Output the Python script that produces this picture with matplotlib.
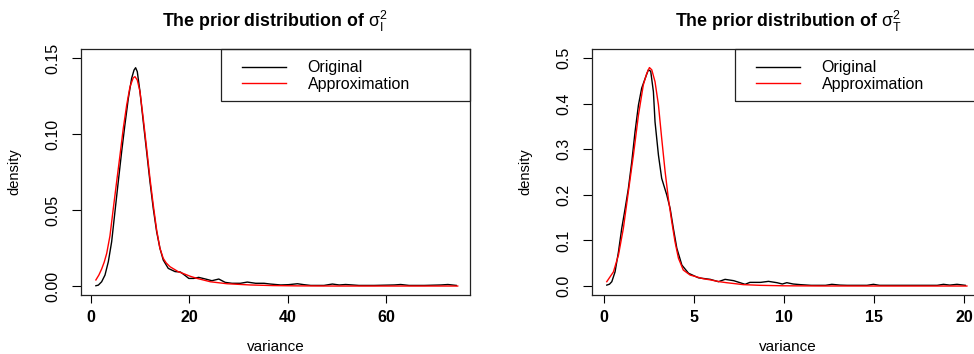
import matplotlib
matplotlib.use("Agg")
import matplotlib.pyplot as plt
from matplotlib.patches import Rectangle

plt.rcParams["font.family"] = ["Liberation Sans", "DejaVu Sans"]
plt.rcParams["mathtext.fontset"] = "custom"
plt.rcParams["mathtext.rm"] = "Liberation Sans"
plt.rcParams["mathtext.it"] = "Liberation Sans"

# sigma_I^2: estimated density of the samples vs fitted approximation
var_i_orig_x = [1.0, 1.5, 2.17, 2.85, 3.53, 4.2, 4.88, 5.55, 6.24, 6.9, 7.6, 8.27, 8.75,
                9.08, 9.42, 9.96, 10.64, 11.32, 12.0, 12.67, 13.36, 14.03, 14.7, 15.72,
                17.1, 18.2, 19.2, 19.9, 20.9, 21.9, 23.3, 24.6, 26.0, 27.3, 28.7, 30.4,
                31.8, 33.5, 35.2, 36.5, 38.6, 40.2, 42.0, 43.3, 44.7, 47.4, 49.1, 50.5,
                51.8, 53.2, 54.5, 57.6, 61.7, 63.0, 64.7, 67.8, 71.2, 72.6, 74.3]
var_i_orig_y = [0.0002, 0.0006, 0.0028, 0.0072, 0.016, 0.029, 0.049, 0.0686, 0.0884,
                0.106, 0.1235, 0.1366, 0.142, 0.1436, 0.141, 0.128, 0.108, 0.0884, 0.0686,
                0.051, 0.0357, 0.0248, 0.0171, 0.0116, 0.0095, 0.0092, 0.0068, 0.005,
                0.005, 0.0057, 0.0046, 0.0035, 0.0046, 0.0024, 0.0018, 0.0018, 0.0026,
                0.0018, 0.0018, 0.0013, 0.0007, 0.0009, 0.0015, 0.0009, 0.0004, 0.0004,
                0.0013, 0.0007, 0.001, 0.0007, 0.0004, 0.0004, 0.0007, 0.001, 0.0004,
                0.0004, 0.0007, 0.001, 0.0004]

var_i_appr_x = [1.0, 1.6, 2.17, 2.7, 3.2, 3.86, 4.54, 5.22, 5.9, 6.57, 7.26, 7.93, 8.6,
                8.95, 9.42, 9.96, 10.64, 11.32, 12.0, 12.67, 13.36, 14.03, 14.7, 15.3,
                16.07, 17.77, 18.8, 20.2, 21.6, 24.3, 27.7, 32.4, 37.0, 42.0, 50.0, 60.0,
                74.6]
var_i_appr_y = [0.004, 0.0072, 0.0112, 0.0158, 0.0215, 0.033, 0.051, 0.0686, 0.086,
                0.1037, 0.119, 0.131, 0.137, 0.1377, 0.1355, 0.128, 0.110, 0.0906, 0.0708,
                0.0533, 0.0368, 0.0248, 0.0182, 0.0152, 0.0127, 0.0094, 0.0082, 0.0064,
                0.005, 0.0028, 0.0015, 0.0007, 0.0003, 0.0001, 0.0, 0.0, 0.0]

# sigma_T^2
var_t_orig_x = [0.15, 0.3, 0.43, 0.61, 0.8, 0.98, 1.17, 1.35, 1.54, 1.72, 1.91, 2.09,
                2.28, 2.46, 2.59, 2.74, 2.83, 3.02, 3.2, 3.48, 3.67, 3.85, 4.04, 4.32,
                4.69, 5.24, 5.9, 6.35, 6.72, 7.2, 7.55, 7.83, 8.1, 8.7, 9.13, 9.6, 9.9,
                10.15, 10.5, 10.9, 11.5, 12.3, 12.65, 13.1, 13.5, 14.6, 14.96, 15.3, 16.4,
                18.5, 18.85, 19.2, 19.6, 20.06]
var_t_orig_y = [0.002, 0.004, 0.0095, 0.031, 0.075, 0.126, 0.170, 0.214, 0.273, 0.338,
                0.397, 0.434, 0.455, 0.474, 0.471, 0.426, 0.360, 0.287, 0.236, 0.200,
                0.170, 0.126, 0.083, 0.046, 0.028, 0.018, 0.0146, 0.0095, 0.0146, 0.0117,
                0.0073, 0.0037, 0.008, 0.008, 0.0102, 0.0073, 0.0044, 0.0073, 0.0044,
                0.003, 0.0015, 0.0015, 0.0037, 0.002, 0.0015, 0.0015, 0.0037, 0.0015,
                0.0015, 0.0015, 0.0037, 0.002, 0.0037, 0.0015]

var_t_appr_x = [0.15, 0.52, 0.8, 1.07, 1.35, 1.63, 1.91, 2.18, 2.37, 2.52, 2.65, 2.83,
                3.02, 3.2, 3.39, 3.57, 3.76, 3.94, 4.13, 4.4, 4.78, 5.15, 5.5, 5.9, 6.4,
                6.8, 7.74, 8.67, 9.96, 12.0, 16.0, 20.15]
var_t_appr_y = [0.0095, 0.031, 0.068, 0.126, 0.207, 0.287, 0.375, 0.441, 0.466, 0.479,
                0.474, 0.448, 0.397, 0.324, 0.251, 0.192, 0.141, 0.097, 0.061, 0.035,
                0.024, 0.020, 0.016, 0.0135, 0.0095, 0.0073, 0.003, 0.0015, 0.0005, 0.0001,
                0.0, 0.0]

i_xticks = [0, 20, 40, 60]
i_yticks = [0.00, 0.05, 0.10, 0.15]
i_ylabels = ["0.00", "0.05", "0.10", "0.15"]
t_xticks = [0, 5, 10, 15, 20]
t_yticks = [0.0, 0.1, 0.2, 0.3, 0.4, 0.5]
t_ylabels = ["0.0", "0.1", "0.2", "0.3", "0.4", "0.5"]

W, H = 974, 354
fig = plt.figure(figsize=(W / 100, H / 100), dpi=100)


def px_axes(x0, x1, y0, y1):
    return fig.add_axes([x0 / W, 1 - y1 / H, (x1 - x0) / W, (y1 - y0) / H])


ax1 = px_axes(81, 470, 49, 295)
ax2 = px_axes(592, 984, 49, 295)

panels = [
    (ax1, var_i_orig_x, var_i_orig_y, var_i_appr_x, var_i_appr_y,
     i_xticks, i_yticks, i_ylabels, (-2.03, 77.1), (-0.0059, 0.1559),
     r"The prior distribution of $\sigma_I^2$"),
    (ax2, var_t_orig_x, var_t_orig_y, var_t_appr_x, var_t_appr_y,
     t_xticks, t_yticks, t_ylabels, (-0.67, 21.1), (-0.0197, 0.5197),
     r"The prior distribution of $\sigma_T^2$"),
]

for ax, ox, oy, ax_, ay, xt, yt, yl, xlim, ylim, title in panels:
    ax.plot(ox, oy, color="black", lw=1.0, label="Original")
    ax.plot(ax_, ay, color="#ff0000", lw=1.0, label="Approximation")
    ax.set_xlim(*xlim)
    ax.set_ylim(*ylim)
    ax.set_xticks(xt)
    ax.set_yticks(yt)
    ax.set_yticklabels(yl, rotation=90, va="center")
    for lab in ax.get_xticklabels():
        lab.set_fontweight("bold")
    ax.tick_params(axis="x", length=5.5, width=0.8, pad=5, labelsize=11.5)
    ax.tick_params(axis="y", length=6.5, width=0.8, pad=8, labelsize=11.5)
    for s in ax.spines.values():
        s.set_linewidth(0.9)
        s.set_color("#222222")
    ax.set_xlabel("variance", fontsize=11)
    ax.set_ylabel("density", fontsize=10.5)
    ax.xaxis.set_label_coords(0.5, -0.211)
    ax.yaxis.set_label_coords(-0.171, 0.5)
    ax.xaxis.label.set_va("center")
    ax.yaxis.label.set_va("center")
    ax.text(0.5, 1.11, title, transform=ax.transAxes, ha="center", va="center",
            fontsize=12.8, fontweight="bold")

    # legend box flush with the top-right corner of the plot region
    box_left = 1 - 249 / ax.bbox.width
    ax.add_patch(Rectangle((box_left, 0.789), 1 - box_left, 0.211, transform=ax.transAxes,
                           fill=False, edgecolor="#222222", lw=0.9, clip_on=False))
    ax.legend(loc="center left", bbox_to_anchor=(box_left + 21 / ax.bbox.width, 0.89),
              frameon=False, borderpad=0, borderaxespad=0, handlelength=2.75,
              handletextpad=1.35, labelspacing=0.1, fontsize=11.5)

fig.savefig("out.png", dpi=100)
